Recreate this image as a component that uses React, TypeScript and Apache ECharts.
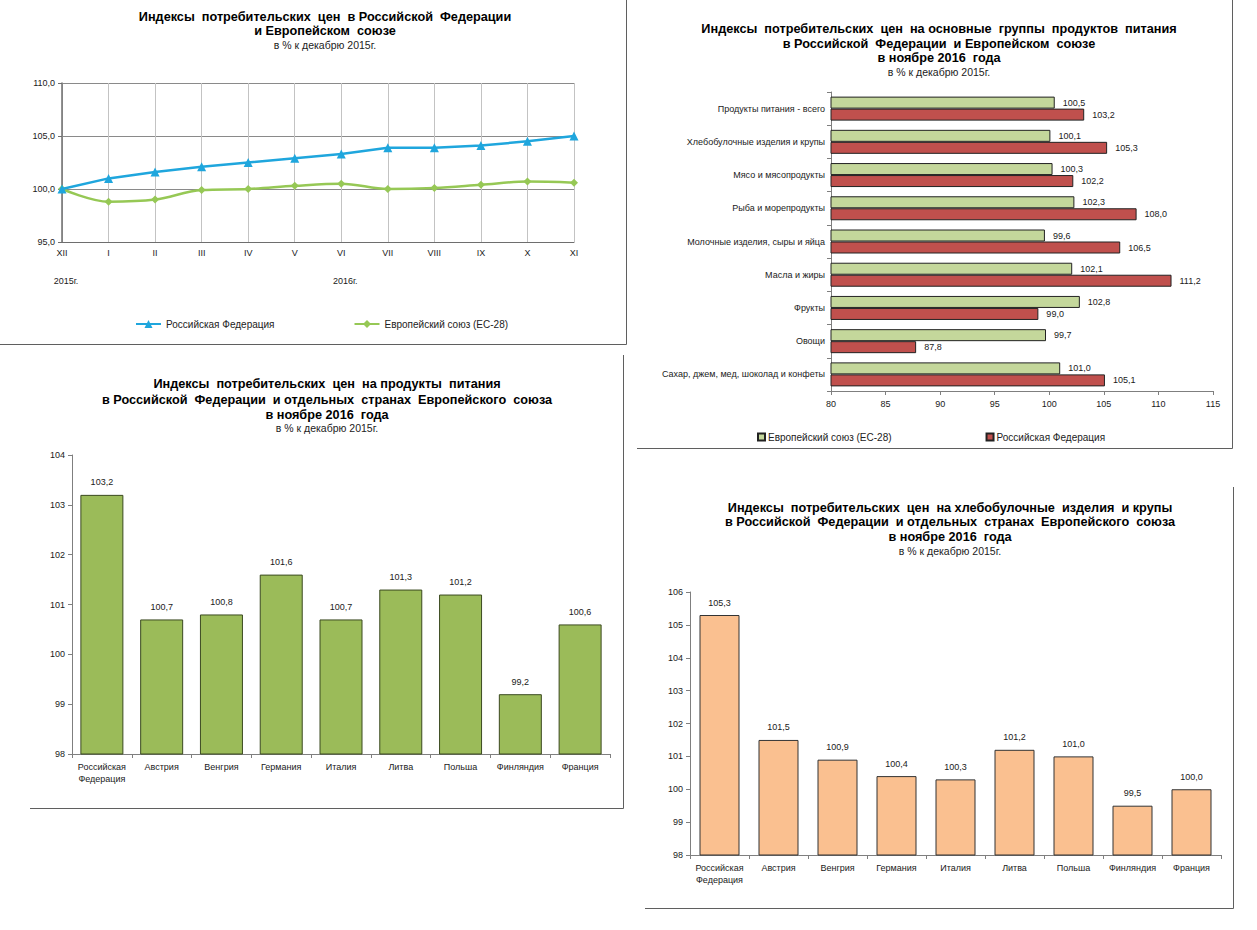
import React, { useEffect, useRef } from 'react';
import * as echarts from 'echarts';

// ---------- data ----------
const months = ['XII', 'I', 'II', 'III', 'IV', 'V', 'VI', 'VII', 'VIII', 'IX', 'X', 'XI'];
const rfMonthly = [100.0, 101.0, 101.6, 102.1, 102.5, 102.9, 103.3, 103.9, 103.9, 104.1, 104.5, 105.0];
const euMonthly = [100.0, 98.8, 99.0, 99.9, 100.0, 100.3, 100.5, 100.0, 100.1, 100.4, 100.7, 100.6];
const yearMarks = [
  { text: '2015г.', month: 'XII' },
  { text: '2016г.', month: 'VI' },
];

const foodGroups = [
  'Продукты питания - всего',
  'Хлебобулочные изделия и крупы',
  'Мясо и мясопродукты',
  'Рыба и морепродукты',
  'Молочные изделия, сыры и яйца',
  'Масла и жиры',
  'Фрукты',
  'Овощи',
  'Сахар, джем, мед, шоколад и конфеты',
];
const euGroups = [100.5, 100.1, 100.3, 102.3, 99.6, 102.1, 102.8, 99.7, 101.0];
const rfGroups = [103.2, 105.3, 102.2, 108.0, 106.5, 111.2, 99.0, 87.8, 105.1];

const countries = ['Российская Федерация', 'Австрия', 'Венгрия', 'Германия', 'Италия', 'Литва', 'Польша', 'Финляндия', 'Франция'];
const foodByCountry = [103.2, 100.7, 100.8, 101.6, 100.7, 101.3, 101.2, 99.2, 100.6];
const breadByCountry = [105.3, 101.5, 100.9, 100.4, 100.3, 101.2, 101.0, 99.5, 100.0];

const RF_NAME = 'Российская Федерация';
const EU_NAME = 'Европейский союз (ЕС-28)';
const RF_GROUP_SERIES = 'РФ – группы продуктов';
const EU_GROUP_SERIES = 'ЕС-28 – группы продуктов';
const groupLegendText: Record<string, string> = {
  [RF_GROUP_SERIES]: RF_NAME,
  [EU_GROUP_SERIES]: EU_NAME,
};

// ---------- styles ----------
const FONT = '"Liberation Sans", Arial, Helvetica, sans-serif';
const fmt = (v: number) => Number(v).toFixed(1).replace('.', ',');
const TXT = '#1a1a1a';
const AXIS = '#7f7f7f';

const titleText = (x: number, y: number, text: string, bold: boolean) => ({
  type: 'text',
  x,
  y,
  silent: true,
  style: {
    text,
    fontSize: bold ? 12.7 : 10.5,
    fontWeight: bold ? 'bold' : 'normal',
    fontFamily: FONT,
    fill: bold ? '#000' : '#222',
    align: 'center',
    verticalAlign: 'middle',
  },
});

const border = (x1: number, y1: number, x2: number, y2: number) => ({
  type: 'line',
  silent: true,
  shape: { x1, y1, x2, y2 },
  style: { stroke: '#5f5f5f', lineWidth: 1 },
});

const baseGraphic: any[] = [
  // chart 1 titles
  titleText(325, 17, 'Индексы  потребительских  цен  в Российской  Федерации', true),
  titleText(325, 31, 'и Европейском  союзе', true),
  titleText(325, 45, 'в % к декабрю 2015г.', false),
  // chart 2 titles
  titleText(939, 29, 'Индексы  потребительских  цен  на основные  группы  продуктов  питания', true),
  titleText(939, 44, 'в Российской  Федерации  и Европейском  союзе', true),
  titleText(939, 58, 'в ноябре 2016  года', true),
  titleText(939, 72, 'в % к декабрю 2015г.', false),
  // chart 3 titles
  titleText(327, 384, 'Индексы  потребительских  цен  на продукты  питания', true),
  titleText(327, 400, 'в Российской  Федерации  и отдельных  странах  Европейского  союза', true),
  titleText(327, 415, 'в ноябре 2016  года', true),
  titleText(327, 428, 'в % к декабрю 2015г.', false),
  // chart 4 titles
  titleText(950, 508, 'Индексы  потребительских  цен  на хлебобулочные  изделия  и крупы', true),
  titleText(950, 522, 'в Российской  Федерации  и отдельных  странах  Европейского  союза', true),
  titleText(950, 537, 'в ноябре 2016  года', true),
  titleText(950, 551, 'в % к декабрю 2015г.', false),
  // frames
  border(626.5, 0, 626.5, 344.5),
  border(0, 344.5, 626.5, 344.5),
  border(1232.5, 0, 1232.5, 448.5),
  border(637, 448.5, 1232.5, 448.5),
  border(623.5, 355, 623.5, 808.5),
  border(30, 808.5, 623.5, 808.5),
  border(1233.5, 487, 1233.5, 908.5),
  border(645, 908.5, 1233.5, 908.5),
];

const axisLabel = { fontSize: 9, color: TXT, fontFamily: FONT };

const option: any = {
  animation: false,
  backgroundColor: '#fff',
  textStyle: { fontFamily: FONT },
  grid: [
    { left: 62, top: 83, width: 512, height: 159 },
    { left: 831, top: 92, width: 382, height: 299 },
    { left: 72, top: 455, width: 538, height: 299 },
    { left: 690, top: 592, width: 531, height: 263 },
  ],
  xAxis: [
    {
      gridIndex: 0,
      type: 'category',
      data: months,
      boundaryGap: false,
      axisLine: { show: true, lineStyle: { color: '#6e6e6e', width: 1 } },
      axisTick: { show: false },
      axisLabel: { ...axisLabel, margin: 6, interval: 0 },
      splitLine: { show: true, lineStyle: { color: '#c3c3c3', width: 1 } },
    },
    {
      gridIndex: 1,
      type: 'value',
      min: 80,
      max: 115,
      interval: 5,
      axisLine: { show: true, lineStyle: { color: AXIS } },
      axisTick: { show: true, length: 4, lineStyle: { color: AXIS } },
      axisLabel: { ...axisLabel, margin: 8 },
      splitLine: { show: false },
    },
    {
      gridIndex: 2,
      type: 'category',
      data: countries,
      axisLine: { show: true, lineStyle: { color: AXIS } },
      axisTick: { show: true, length: 4, lineStyle: { color: AXIS } },
      axisLabel: {
        ...axisLabel,
        margin: 7,
        interval: 0,
        lineHeight: 12,
        formatter: (v: string) => v.replace(' ', '\n'),
      },
    },
    {
      gridIndex: 3,
      type: 'category',
      data: countries,
      axisLine: { show: true, lineStyle: { color: AXIS } },
      axisTick: { show: true, length: 4, lineStyle: { color: AXIS } },
      axisLabel: {
        ...axisLabel,
        margin: 7,
        interval: 0,
        lineHeight: 12,
        formatter: (v: string) => v.replace(' ', '\n'),
      },
    },
  ],
  yAxis: [
    {
      gridIndex: 0,
      type: 'value',
      min: 95,
      max: 110,
      interval: 5,
      axisLine: { show: true, lineStyle: { color: '#6e6e6e', width: 1.5 } },
      axisTick: { show: true, length: 4, lineStyle: { color: '#6e6e6e' } },
      axisLabel: { ...axisLabel, margin: 7, formatter: (v: number) => fmt(v) },
      splitLine: { show: true, lineStyle: { color: '#8a8a8a', width: 1 } },
    },
    {
      gridIndex: 1,
      type: 'category',
      data: foodGroups,
      inverse: true,
      axisLine: { show: true, lineStyle: { color: AXIS } },
      axisTick: { show: true, length: 4, lineStyle: { color: AXIS } },
      axisLabel: { ...axisLabel, margin: 6, interval: 0 },
    },
    {
      gridIndex: 2,
      type: 'value',
      min: 98,
      max: 104,
      interval: 1,
      axisLine: { show: true, lineStyle: { color: AXIS } },
      axisTick: { show: true, length: 4, lineStyle: { color: AXIS } },
      axisLabel: { ...axisLabel, margin: 7 },
      splitLine: { show: false },
    },
    {
      gridIndex: 3,
      type: 'value',
      min: 98,
      max: 106,
      interval: 1,
      axisLine: { show: true, lineStyle: { color: AXIS } },
      axisTick: { show: true, length: 4, lineStyle: { color: AXIS } },
      axisLabel: { ...axisLabel, margin: 7 },
      splitLine: { show: false },
    },
  ],
  legend: [
    {
      left: 135,
      top: 319,
      padding: 0,
      itemWidth: 25,
      itemHeight: 10,
      itemGap: 79,
      data: [RF_NAME, EU_NAME],
      textStyle: { fontSize: 10, color: '#222', fontFamily: FONT },
      selectedMode: false,
    },
    {
      left: 757,
      top: 432,
      padding: 0,
      itemWidth: 7,
      itemHeight: 7,
      itemGap: 94,
      icon: 'rect',
      data: [EU_GROUP_SERIES, RF_GROUP_SERIES],
      formatter: (name: string) => groupLegendText[name] || name,
      textStyle: { fontSize: 10, color: '#222', fontFamily: FONT, padding: [0, 0, 0, -2] },
      selectedMode: false,
    },
  ],
  series: [
    {
      name: RF_NAME,
      type: 'line',
      xAxisIndex: 0,
      yAxisIndex: 0,
      data: rfMonthly,
      symbol: 'triangle',
      symbolSize: 9,
      lineStyle: { color: '#1fa6dd', width: 2.5 },
      itemStyle: { color: '#1fa6dd' },
      z: 4,
    },
    {
      name: EU_NAME,
      type: 'line',
      xAxisIndex: 0,
      yAxisIndex: 0,
      data: euMonthly,
      smooth: 0.35,
      symbol: 'diamond',
      symbolSize: 8,
      lineStyle: { color: '#96c855', width: 2.5 },
      itemStyle: { color: '#96c855' },
      z: 3,
    },
    {
      name: EU_GROUP_SERIES,
      type: 'bar',
      xAxisIndex: 1,
      yAxisIndex: 1,
      data: euGroups,
      barWidth: 12,
      barGap: '0%',
      itemStyle: { color: '#c4d79b', borderColor: '#222', borderWidth: 1 },
      label: {
        show: true,
        position: 'right',
        distance: 8,
        fontSize: 9,
        color: TXT,
        fontFamily: FONT,
        formatter: (p: any) => fmt(p.value),
      },
    },
    {
      name: RF_GROUP_SERIES,
      type: 'bar',
      xAxisIndex: 1,
      yAxisIndex: 1,
      data: rfGroups,
      barWidth: 12,
      barGap: '0%',
      itemStyle: { color: '#c0504d', borderColor: '#222', borderWidth: 1 },
      label: {
        show: true,
        position: 'right',
        distance: 8,
        fontSize: 9,
        color: TXT,
        fontFamily: FONT,
        formatter: (p: any) => fmt(p.value),
      },
    },
    {
      name: 'Продукты питания',
      type: 'bar',
      xAxisIndex: 2,
      yAxisIndex: 2,
      data: foodByCountry,
      barWidth: 43,
      itemStyle: { color: '#9bbb59', borderColor: '#3b4a20', borderWidth: 1 },
      label: {
        show: true,
        position: 'top',
        distance: 8,
        fontSize: 9,
        color: TXT,
        fontFamily: FONT,
        formatter: (p: any) => fmt(p.value),
      },
    },
    {
      name: 'Хлебобулочные изделия и крупы',
      type: 'bar',
      xAxisIndex: 3,
      yAxisIndex: 3,
      data: breadByCountry,
      barWidth: 40,
      itemStyle: { color: '#fac090', borderColor: '#333', borderWidth: 1 },
      label: {
        show: true,
        position: 'top',
        distance: 8,
        fontSize: 9,
        color: TXT,
        fontFamily: FONT,
        formatter: (p: any) => fmt(p.value),
      },
    },
  ],
};

export default function App() {
  const ref = useRef<HTMLDivElement>(null);

  useEffect(() => {
    if (!ref.current) return;
    const chart = echarts.init(ref.current, null, { renderer: 'svg' });
    chart.setOption(option);
    const yearTexts = yearMarks.map((m) => {
      const x = chart.convertToPixel({ xAxisIndex: 0 }, m.month) as number;
      return {
        type: 'text',
        x: x + 4,
        y: 281,
        silent: true,
        style: {
          text: m.text,
          fontSize: 9,
          fontFamily: FONT,
          fill: TXT,
          align: 'center',
          verticalAlign: 'middle',
        },
      };
    });
    chart.setOption({ graphic: [...baseGraphic, ...yearTexts] });
    return () => chart.dispose();
  }, []);

  return (
    <div
      ref={ref}
      style={{ position: 'fixed', left: 0, top: 0, width: 1257, height: 930, background: '#fff' }}
    />
  );
}
